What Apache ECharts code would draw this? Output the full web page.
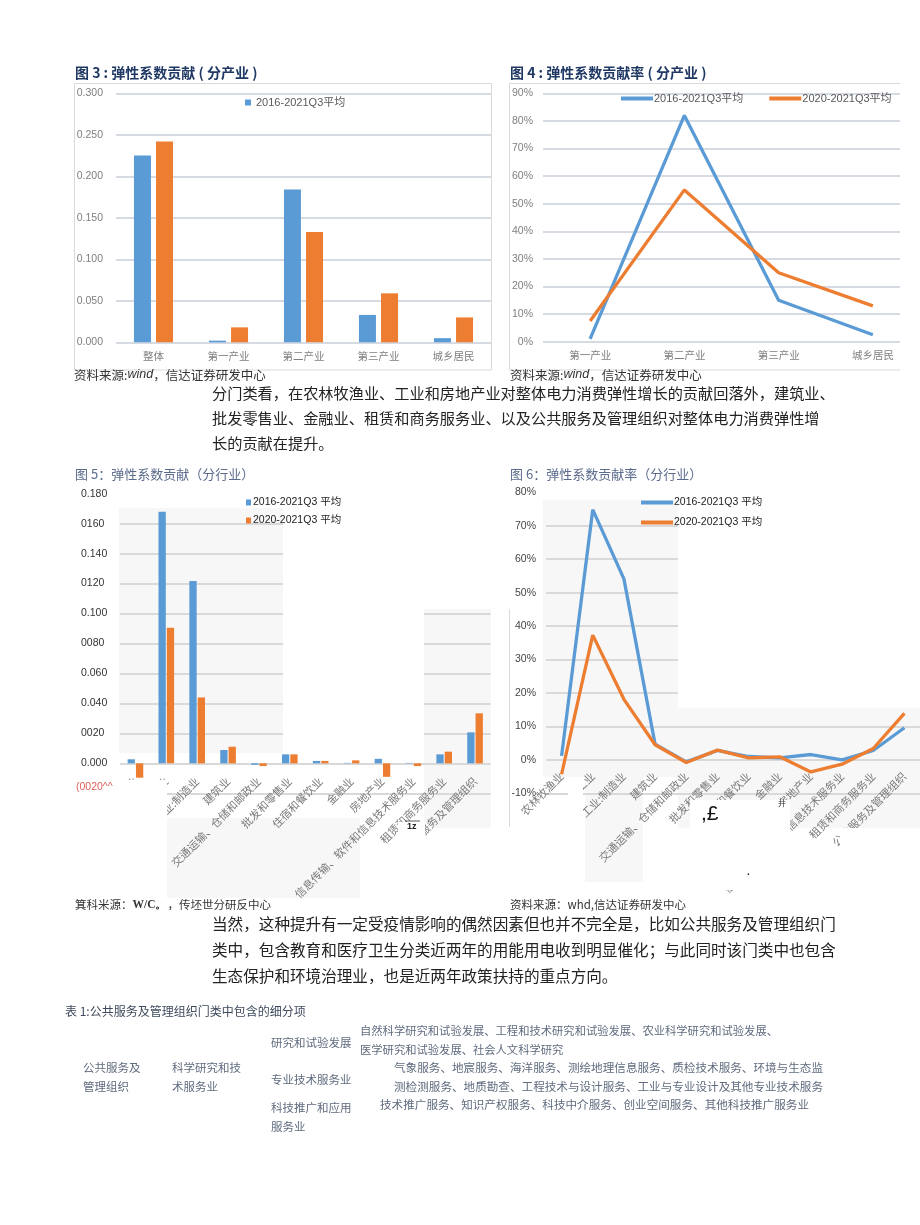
<!DOCTYPE html>
<html><head><meta charset="utf-8">
<script src="https://cdn.jsdelivr.net/npm/echarts@6/dist/echarts.min.js"></script>
<style>html,body{margin:0;padding:0;background:#fff}#c{width:920px;height:1225px}</style>
</head><body><div id="c"></div>
<script>
// ---------- data ----------
const fig3Categories = ['整体','第一产业','第二产业','第三产业','城乡居民'];
const fig3Avg1621 = [0.225, 0.002, 0.184, 0.033, 0.005];
const fig3Avg2021 = [0.242, 0.018, 0.133, 0.059, 0.030];

const fig4Categories = ['第一产业','第二产业','第三产业','城乡居民'];
const fig4Avg1621 = [1, 82, 15, 2.5];
const fig4Avg2021 = [7.5, 55, 25, 13];

const industryCategories = ['农林牧渔业','工业','工业:制造业','建筑业','交通运输、仓储和邮政业','批发和零售业','住宿和餐饮业','金融业','房地产业','信息传输、软件和信息技术服务业','租赁和商务服务业','公共服务及管理组织'];
const fig5Avg1621 = [0.0027, 0.168, 0.1217, 0.0089, -0.001, 0.006, 0.0016, 0.0003, 0.003, 0.0003, 0.006, 0.0207];
const fig5Avg2021 = [-0.0096, 0.0905, 0.044, 0.0111, -0.0018, 0.006, 0.0016, 0.002, -0.009, -0.0018, 0.0078, 0.0334];
const fig5TickLabels = ['(0020^^','0.000','0020','0.040','0.060','0080','0.100','0120','0.140','0160','0.180'];

const fig6Avg1621 = [1.2, 74.8, 54.1, 4.7, -0.6, 2.8, 1.0, 0.6, 1.6, 0.0, 2.8, 9.6];
const fig6Avg2021 = [-4.3, 37.3, 18.1, 4.5, -0.8, 2.9, 0.6, 0.9, -3.6, -1.3, 3.4, 13.9];

const nameA = '2016-2021Q3平均', nameB = '2020-2021Q3平均';
const nameA2 = '2016-2021Q3 平均', nameB2 = '2020-2021Q3 平均';

// ---------- styles ----------
const BLUE = '#5b9bd5', ORANGE = '#ed7d31';
const F = '"Liberation Sans", "Noto Sans CJK SC", sans-serif';
const FC = '"Noto Sans CJK SC", sans-serif';

function txt(x, y, text, o) {
  o = o || {};
  return { type: 'text', x: x, y: y, z: o.z || 20,
    style: Object.assign({ text: text, fill: o.fill || '#333', fontSize: o.size || 12,
      fontFamily: o.family || FC, fontWeight: o.weight || 'normal', fontStyle: o.style || 'normal',
      verticalAlign: 'middle', align: o.align || 'left' }, o.rich ? { rich: o.rich } : {}) };
}
function rect(x, y, w, h, fill, z, stroke) {
  return { type: 'rect', z: z, shape: { x: x, y: y, width: w, height: h },
    style: { fill: fill, stroke: stroke || null, lineWidth: stroke ? 1 : 0 } };
}

const chart = echarts.init(document.getElementById('c'), null, { renderer: 'canvas' });

const hidden = { show: false };
const bottomLine = { show: false, onZero: false };
const GRAY = '#f7f7f7';
const option = {
  animation: false,
  backgroundColor: '#fff',
  grid: [
    { left: 116, top: 93.3, width: 375, height: 249 },
    { left: 543, top: 93.3, width: 384, height: 248.4 },
    { left: 120, top: 493.7, width: 370.5, height: 299.6 },
    { left: 546, top: 492.3, width: 374, height: 301 }
  ],
  legend: [
    { left: 245, top: 97, orient: 'horizontal', selectedMode: false, padding: 0,
      data: [{ name: nameA, icon: 'rect' }], itemWidth: 6, itemHeight: 6,
      textStyle: { fontSize: 11, color: '#595959', fontFamily: F } },
    { left: 621, top: 93, orient: 'horizontal', selectedMode: false, padding: 0, itemGap: 26,
      data: [{ name: nameA, icon: 'rect' }, { name: nameB, icon: 'rect' }], itemWidth: 32, itemHeight: 4,
      textStyle: { fontSize: 11, color: '#595959', fontFamily: F, padding: [0, 0, 0, -4] } },
    { left: 246, top: 496, orient: 'vertical', selectedMode: false, padding: 0, itemGap: 5,
      data: [{ name: nameA2, icon: 'rect' }, { name: nameB2, icon: 'rect' }], itemWidth: 5, itemHeight: 6,
      textStyle: { fontSize: 10.5, color: '#222', fontFamily: F, lineHeight: 13, padding: [0, 0, 0, -3] } },
    { left: 641, top: 496, orient: 'vertical', selectedMode: false, padding: 0, itemGap: 7,
      data: [{ name: nameA2, icon: 'rect' }, { name: nameB2, icon: 'rect' }], itemWidth: 32, itemHeight: 4,
      textStyle: { fontSize: 10.5, color: '#222', fontFamily: F, lineHeight: 13, padding: [0, 0, 0, -4] } }
  ],
  xAxis: [
    { gridIndex: 0, type: 'category', data: fig3Categories, axisLine: hidden, axisTick: hidden,
      axisLabel: { color: '#7f7f7f', fontSize: 10.5, margin: 8, fontFamily: FC } },
    { gridIndex: 1, type: 'category', data: fig4Categories, axisLine: hidden, axisTick: hidden,
      axisLabel: { color: '#7f7f7f', fontSize: 10.5, margin: 8, fontFamily: FC } },
    // labels sit just under the zero line (axis kept at the bottom, label pulled up)
    { gridIndex: 2, type: 'category', data: industryCategories, axisLine: bottomLine, axisTick: hidden,
      axisLabel: { color: '#7a7a7a', fontSize: 11, margin: -14, rotate: 45, interval: 0, fontFamily: FC } },
    { gridIndex: 3, type: 'category', data: industryCategories, axisLine: bottomLine, axisTick: hidden,
      axisLabel: { color: '#7a7a7a', fontSize: 11, margin: -19, rotate: 45, interval: 0, fontFamily: FC } }
  ],
  yAxis: [
    { gridIndex: 0, type: 'value', min: 0, max: 0.3, interval: 0.05, axisLine: hidden, axisTick: hidden,
      axisLabel: { formatter: v => v.toFixed(3), color: '#7f7f7f', fontSize: 10.5, margin: 13, fontFamily: F },
      splitLine: { lineStyle: { color: '#d6dbe3', width: 2 } } },
    { gridIndex: 1, type: 'value', min: 0, max: 90, interval: 10, axisLine: hidden, axisTick: hidden,
      axisLabel: { formatter: '{value}%', color: '#7f7f7f', fontSize: 10.5, margin: 10, fontFamily: F },
      splitLine: { lineStyle: { color: '#d6dbe3', width: 2 } } },
    { gridIndex: 2, type: 'value', min: -0.02, max: 0.18, interval: 0.02, axisLine: hidden, axisTick: hidden,
      axisLabel: { formatter: v => { const i = Math.round((v + 0.02) / 0.02); return i === 0 ? '' : fig5TickLabels[i]; },
        color: '#333', fontSize: 10.5, margin: 39, align: 'left', fontFamily: F },
      splitLine: { lineStyle: { color: '#d9d9d9', width: 2 } } },
    { gridIndex: 3, type: 'value', min: -10, max: 80, interval: 10, axisLine: hidden, axisTick: hidden,
      axisLabel: { formatter: '{value}%', color: '#444', fontSize: 10.5, margin: 10, fontFamily: F },
      splitLine: { lineStyle: { color: '#d9d9d9', width: 2 } } }
  ],
  series: [
    { name: nameA, type: 'bar', xAxisIndex: 0, yAxisIndex: 0, data: fig3Avg1621, barWidth: 17, barGap: '30%', itemStyle: { color: BLUE }, z: 3 },
    { name: nameB, type: 'bar', xAxisIndex: 0, yAxisIndex: 0, data: fig3Avg2021, barWidth: 17, barGap: '30%', itemStyle: { color: ORANGE }, z: 3 },
    { name: nameA, type: 'line', xAxisIndex: 1, yAxisIndex: 1, data: fig4Avg1621, symbol: 'none', lineStyle: { color: BLUE, width: 3.3 }, itemStyle: { color: BLUE }, z: 3 },
    { name: nameB, type: 'line', xAxisIndex: 1, yAxisIndex: 1, data: fig4Avg2021, symbol: 'none', lineStyle: { color: ORANGE, width: 3.3 }, itemStyle: { color: ORANGE }, z: 3 },
    { name: nameA2, type: 'bar', xAxisIndex: 2, yAxisIndex: 2, data: fig5Avg1621, barWidth: 7.3, barGap: '14%', itemStyle: { color: BLUE }, z: 3 },
    { name: nameB2, type: 'bar', xAxisIndex: 2, yAxisIndex: 2, data: fig5Avg2021, barWidth: 7.3, barGap: '14%', itemStyle: { color: ORANGE }, z: 3 },
    { name: nameA2, type: 'line', xAxisIndex: 3, yAxisIndex: 3, data: fig6Avg1621, symbol: 'none', lineStyle: { color: BLUE, width: 3.3 }, itemStyle: { color: BLUE }, z: 3 },
    { name: nameB2, type: 'line', xAxisIndex: 3, yAxisIndex: 3, data: fig6Avg2021, symbol: 'none', lineStyle: { color: ORANGE, width: 3.3 }, itemStyle: { color: ORANGE }, z: 3 }
  ],
  graphic: { elements: [
    // light scan background patches (under the grid lines)
    rect(119, 508, 164, 245, GRAY, -5),
    rect(166, 818, 194, 80, GRAY, -5),
    rect(424, 609, 67, 219, GRAY, -5),
    rect(543, 500, 135, 277, GRAY, -5),
    rect(678, 708, 242, 120, GRAY, -5),
    rect(585, 777, 58, 105, GRAY, -5),
    // frames of the top two figures
    rect(74.5, 83.5, 417, 286.5, 'rgba(0,0,0,0)', 1, '#d9d9d9'),
    rect(509.5, 83.5, 420, 286.5, 'rgba(0,0,0,0)', 1, '#d9d9d9'),
    // right cut of figure 4
    rect(900, 60, 20, 332, '#ffffff', 50),
    // scan patches of figure 5 (hide grid lines / labels)
    rect(118, 478, 165, 29, '#ffffff', 1),
    rect(283, 478, 141, 275, '#ffffff', 1),
    rect(424, 478, 72, 130, '#ffffff', 1),
    rect(92, 780, 75, 125, '#ffffff', 1),
    rect(398, 822, 27, 60, '#ffffff', 1),
    // scan patches of figure 6
    rect(540, 478, 138, 21, '#ffffff', 1),
    rect(678, 478, 242, 229, '#ffffff', 1),
    rect(568, 777, 15, 50, '#ffffff', 1),
    rect(690, 800, 100, 90, '#ffffff', 1),
    rect(840, 828, 80, 62, '#ffffff', 1),
    { type: 'line', z: 2, shape: { x1: 509.5, y1: 609, x2: 509.5, y2: 827 }, style: { stroke: '#d9d9d9', lineWidth: 1 } },
    { type: 'line', z: 20, shape: { x1: 405, y1: 821, x2: 420, y2: 821 }, style: { stroke: '#333', lineWidth: 0.8 } },

    // lowest tick label of figure 5 (scanned in red, drawn over the patch)
    txt(76, 787, fig5TickLabels[0], { size: 10.5, fill: '#e0605a', family: F }),

    // titles
    txt(75, 73, '图 3 : 弹性系数贡献 ( 分产业 )', { size: 14, weight: 'bold', fill: '#1f3864' }),
    txt(510, 73, '图 4 : 弹性系数贡献率 ( 分产业 )', { size: 14, weight: 'bold', fill: '#1f3864' }),
    txt(75, 474, '图 5：弹性系数贡献（分行业）', { size: 13, fill: '#5b6b8c' }),
    txt(510, 474, '图 6：弹性系数贡献率（分行业）', { size: 13, fill: '#5b6b8c' }),

    // sources
    txt(74, 375, '{a|资料来源:}{b|wind}{a|，信达证券研发中心}', { rich: {
      a: { fontSize: 12.5, fontFamily: FC, color: '#333' },
      b: { fontSize: 12.5, fontFamily: F, fontStyle: 'italic', color: '#333' } } }),
    txt(510, 375, '{a|资料来源:}{b|wind}{a|，信达证券研发中心}', { rich: {
      a: { fontSize: 12.5, fontFamily: FC, color: '#333' },
      b: { fontSize: 12.5, fontFamily: F, fontStyle: 'italic', color: '#333' } } }),
    txt(75, 905, '{a|箕科米源：}{b|W/C。}{a|，传坯世分研反中心}', { rich: {
      a: { fontSize: 11.5, fontFamily: FC, color: '#333' },
      b: { fontSize: 11.5, fontFamily: '"Liberation Serif", serif', fontWeight: 'bold', color: '#333' } } }),
    txt(510, 905, '资料来源：whd,信达证券研发中心', { size: 11.5, fill: '#333' }),

    // scan artefacts
    txt(407, 827, '1z', { size: 9, weight: 'bold', fill: '#222', family: F }),
    txt(701, 814, ',£', { size: 21, fill: '#111', family: F }),
    txt(778, 803, '并', { size: 8, fill: '#333' }),
    txt(747, 872, '.', { size: 10, fill: '#333', family: F, weight: 'bold' }),

    // paragraph 1
    txt(212, 393, '分门类看，在农林牧渔业、工业和房地产业对整体电力消费弹性增长的贡献回落外，建筑业、', { size: 15.2, fill: '#222' }),
    txt(212, 418, '批发零售业、金融业、租赁和商务服务业、以及公共服务及管理组织对整体电力消费弹性增', { size: 15.2, fill: '#222' }),
    txt(212, 443, '长的贡献在提升。', { size: 15.2, fill: '#222' }),
    // paragraph 2
    txt(212, 924, '当然，这种提升有一定受疫情影响的偶然因素但也并不完全是，比如公共服务及管理组织门', { size: 15.6, fill: '#222' }),
    txt(212, 950, '类中，包含教育和医疗卫生分类近两年的用能用电收到明显催化；与此同时该门类中也包含', { size: 15.6, fill: '#222' }),
    txt(212, 976, '生态保护和环境治理业，也是近两年政策扶持的重点方向。', { size: 15.6, fill: '#222' }),

    // table
    txt(65, 1011, '表 1:公共服务及管理组织门类中包含的细分项', { size: 12, fill: '#3f4a5c' }),
    txt(83, 1068, '公共服务及', { size: 11.5, fill: '#5f6b7e' }),
    txt(83, 1087, '管理组织', { size: 11.5, fill: '#5f6b7e' }),
    txt(172, 1068, '科学研究和技', { size: 11.5, fill: '#5f6b7e' }),
    txt(172, 1087, '术服务业', { size: 11.5, fill: '#5f6b7e' }),
    txt(271, 1043, '研究和试验发展', { size: 11.5, fill: '#5f6b7e' }),
    txt(271, 1080, '专业技术服务业', { size: 11.5, fill: '#5f6b7e' }),
    txt(271, 1108, '科技推广和应用', { size: 11.5, fill: '#5f6b7e' }),
    txt(271, 1127, '服务业', { size: 11.5, fill: '#5f6b7e' }),
    txt(360, 1031, '自然科学研究和试验发展、工程和技术研究和试验发展、农业科学研究和试验发展、', { size: 11.3, fill: '#5f6b7e' }),
    txt(360, 1050, '医学研究和试验发展、社会人文科学研究', { size: 11.3, fill: '#5f6b7e' }),
    txt(394, 1068, '气象服务、地宸服务、海洋服务、测绘地理信息服务、质检技术服务、环境与生态监', { size: 11.6, fill: '#5f6b7e' }),
    txt(394, 1087, '测检测服务、地质勘查、工程技术与设计服务、工业与专业设计及其他专业技术服务', { size: 11.6, fill: '#5f6b7e' }),
    txt(380, 1105, '技术推广服务、知识产权服务、科技中介服务、创业空间服务、其他科技推广服务业', { size: 11.6, fill: '#5f6b7e' })
  ] }
};
chart.setOption(option);
</script>
</body></html>
